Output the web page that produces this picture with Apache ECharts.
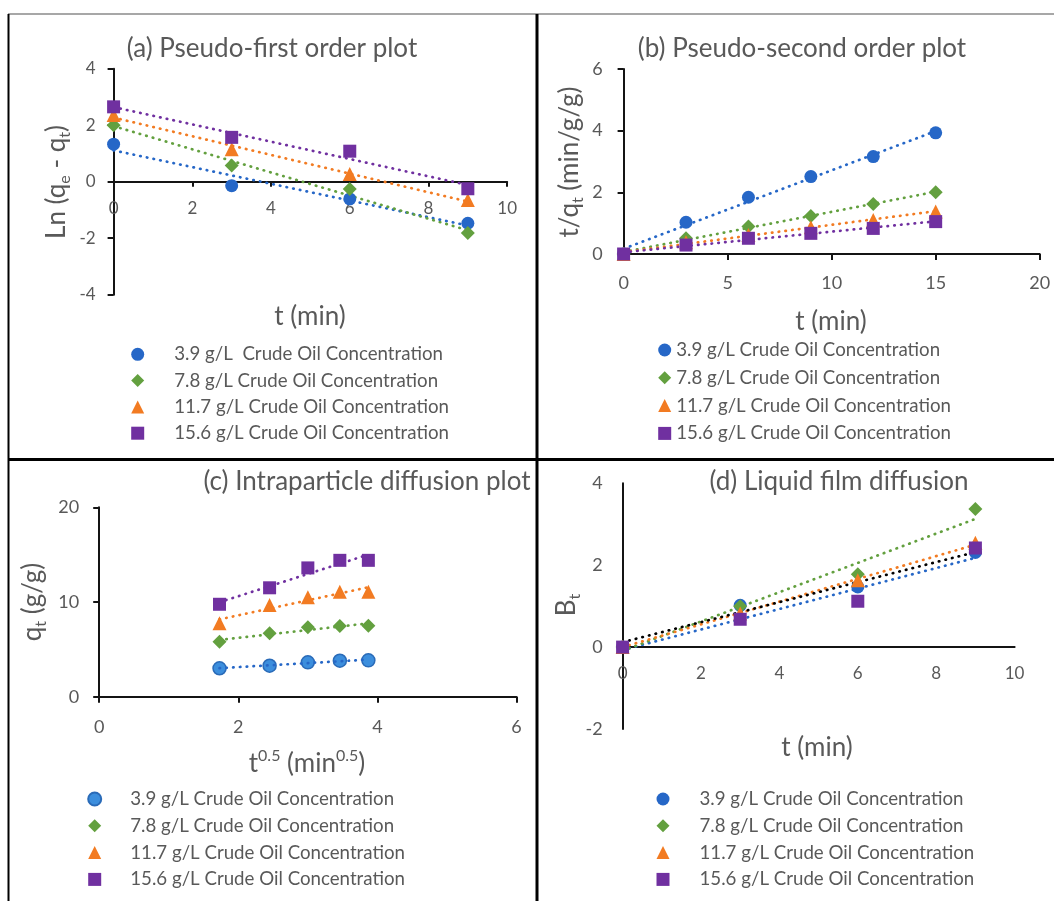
<!DOCTYPE html>
<html>
<head>
<meta charset="utf-8">
<script src="https://cdn.jsdelivr.net/npm/echarts@6/dist/echarts.min.js"></script>
<style>
html,body{margin:0;padding:0;background:#fff;}
.c{position:absolute;left:0;top:0;width:1054px;height:901px;}
</style>
</head>
<body>
<div id="pa" class="c"></div>
<div id="pb" class="c"></div>
<div id="pc" class="c"></div>
<div id="pd" class="c"></div>
<script>
// ---------------- data ----------------
// (a) Pseudo-first order: Ln(qe - qt) vs t
const aTime = [0, 3, 6, 9];
const aC39  = [1.33, -0.14, -0.61, -1.47];
const aC78  = [2.00, 0.57, -0.26, -1.82];
const aC117 = [2.36, 1.15, 0.27, -0.65];
const aC156 = [2.65, 1.57, 1.08, -0.25];

// (b) Pseudo-second order: t/qt vs t
const bTime = [0, 3, 6, 9, 12, 15];
const bC39  = [0, 1.03, 1.84, 2.51, 3.16, 3.93];
const bC78  = [0, 0.51, 0.89, 1.23, 1.62, 2.00];
const bC117 = [0, 0.38, 0.62, 0.87, 1.10, 1.38];
const bC156 = [0, 0.29, 0.51, 0.67, 0.83, 1.05];

// (c) Intraparticle diffusion: qt vs t^0.5
const cRootTime = [1.73, 2.45, 3.00, 3.46, 3.87];
const cC39  = [3.00, 3.27, 3.63, 3.80, 3.84];
const cC78  = [5.81, 6.69, 7.33, 7.47, 7.50];
const cC117 = [7.75, 9.68, 10.50, 11.09, 11.09];
const cC156 = [9.76, 11.50, 13.60, 14.40, 14.40];

// (d) Liquid film diffusion: Bt vs t
const dTime = [0, 3, 6, 9];
const dC39  = [0, 1.02, 1.47, 2.31];
const dC78  = [0, 1.00, 1.78, 3.37];
const dC117 = [0, 0.82, 1.63, 2.55];
const dC156 = [0, 0.68, 1.12, 2.42];
// (d) trendline values at t = 0 and t = 9
const dTrendTime  = [0, 9];
const dTrend39    = [-0.07, 2.18];
const dTrend78    = [-0.09, 3.13];
const dTrend117   = [0.00, 2.50];
const dTrendBlack = [0.12, 2.32];

const namesA = ['3.9 g/L  Crude Oil Concentration', '7.8 g/L Crude Oil Concentration', '11.7 g/L Crude Oil Concentration', '15.6 g/L Crude Oil Concentration'];
const names  = ['3.9 g/L Crude Oil Concentration', '7.8 g/L Crude Oil Concentration', '11.7 g/L Crude Oil Concentration', '15.6 g/L Crude Oil Concentration'];

const titles = ['(a) Pseudo-first order plot', '(b) Pseudo-second order plot', '(c) Intraparticle diffusion plot', '(d) Liquid film diffusion'];

// ---------------- styling ----------------
const FONT = 'Lato';
const GREY = '#595959';
const AXC = '#141414';
const COLORS = ['#2667C7', '#63A03F', '#F27B22', '#7030A0'];
const SYMBOLS = ['circle', 'diamond', 'triangle', 'rect'];
const SIZES = [13, 14, 14, 13];

function pairs(xs, ys) { return xs.map((x, i) => [x, ys[i]]); }
function lsq(xs, ys) {
  const n = xs.length;
  const mx = xs.reduce((s, v) => s + v, 0) / n;
  const my = ys.reduce((s, v) => s + v, 0) / n;
  let sxy = 0, sxx = 0;
  for (let i = 0; i < n; i++) { sxy += (xs[i] - mx) * (ys[i] - my); sxx += (xs[i] - mx) * (xs[i] - mx); }
  const m = sxy / sxx;
  return [m, my - m * mx];
}
function trendPts(xs, ys) {
  const [m, b] = lsq(xs, ys);
  const x0 = Math.min(...xs), x1 = Math.max(...xs);
  return [[x0, b + m * x0], [x1, b + m * x1]];
}
function trendSeries(data, color, z) {
  return { type: 'line', data: data, symbol: 'none', silent: true, z: z || 2,
    lineStyle: { color: color, width: 2.7, type: [0.5, 6.3], cap: 'round' }, animation: false };
}
function scatter(name, xs, ys, i, extra) {
  return Object.assign({ type: 'scatter', name: name, data: pairs(xs, ys), symbol: SYMBOLS[i],
    symbolSize: SIZES[i], itemStyle: { color: COLORS[i], opacity: 1 }, z: 3, animation: false }, extra || {});
}
function axisCommon(o) {
  return Object.assign({
    type: 'value', splitLine: { show: false },
    axisLine: { show: true, onZero: false, lineStyle: { color: AXC, width: 2 } },
    axisTick: { show: true, inside: false, length: 6, lineStyle: { color: AXC, width: 2 } },
    axisLabel: { color: GREY, fontFamily: FONT, fontSize: 17, margin: 18 }
  }, o);
}
function titleOpt(text, cx, cy) {
  return { text: text, left: cx, top: cy - 16, textAlign: 'center', padding: 0,
    textStyle: { color: GREY, fontFamily: FONT, fontSize: 26, fontWeight: 'normal', lineHeight: 32 } };
}
function legendOpt(data, left, top, gap, textPad) {
  return { orient: 'vertical', left: left, top: top, padding: 0, itemWidth: 13, itemHeight: 13,
    itemGap: gap, data: data, selectedMode: false,
    textStyle: { color: GREY, fontFamily: FONT, fontSize: 18.7, lineHeight: 20, padding: [0, 0, 0, textPad] } };
}
const richMain = { fontSize: 26, fontFamily: FONT, lineHeight: 32, fill: GREY, color: GREY };
const richSub = { fontSize: 16, fontFamily: FONT, lineHeight: 14, verticalAlign: 'bottom', fill: GREY, color: GREY };
const richSup = { fontSize: 16, fontFamily: FONT, lineHeight: 14, verticalAlign: 'top', fill: GREY, color: GREY };
function axisTitle(text, cx, cy, rotated) {
  return { type: 'text', x: cx, y: cy, rotation: rotated ? Math.PI / 2 : 0, silent: true,
    style: { text: text, align: 'center', verticalAlign: 'middle', fill: GREY,
      font: '26px ' + FONT, rich: { m: richMain, s: richSub, p: richSup } } };
}

// ---------------- panel (a) ----------------
const chartA = echarts.init(document.getElementById('pa'));
chartA.setOption({
  backgroundColor: 'transparent',
  animation: false,
  title: [titleOpt(titles[0], 272, 49)],
  grid: [{ left: 113.6, top: 68.7, width: 393.6, height: 226, outerBoundsMode: 'none' }],
  // x axis drawn through y = 0 (halfway down the -4..4 range)
  xAxis: [axisCommon({ min: 0, max: 10, interval: 2, offset: -113,
    axisTick: { show: true, length: 5, lineStyle: { color: AXC, width: 2 } } })],
  yAxis: [axisCommon({ min: -4, max: 4, interval: 2 })],
  legend: [legendOpt(namesA, 131.2, 344.3, 6.3, 25)],
  graphic: [
    { type: 'line', silent: true, shape: { x1: 8, y1: 14, x2: 1054, y2: 14 }, style: { stroke: '#8a8a8a', lineWidth: 1.5 } },
    { type: 'line', silent: true, shape: { x1: 8.5, y1: 14, x2: 8.5, y2: 901 }, style: { stroke: '#000', lineWidth: 2 } },
    { type: 'line', silent: true, shape: { x1: 537, y1: 14, x2: 537, y2: 901 }, style: { stroke: '#000', lineWidth: 3 } },
    { type: 'line', silent: true, shape: { x1: 8, y1: 459.5, x2: 1054, y2: 459.5 }, style: { stroke: '#000', lineWidth: 3 } },
    axisTitle('{m|Ln (q}{s|e}{m| - q}{s|t}{m|)}', 57, 182, true),
    axisTitle('{m|t (min)}', 310, 317, false)
  ],
  series: [
    trendSeries(trendPts(aTime, aC39), COLORS[0]),
    trendSeries(trendPts(aTime, aC78), COLORS[1]),
    trendSeries(trendPts(aTime, aC117), COLORS[2]),
    trendSeries(trendPts(aTime, aC156), COLORS[3]),
    scatter(namesA[0], aTime, aC39, 0),
    scatter(namesA[1], aTime, aC78, 1),
    scatter(namesA[2], aTime, aC117, 2),
    scatter(namesA[3], aTime, aC156, 3)
  ]
});

// ---------------- panel (b) ----------------
const chartB = echarts.init(document.getElementById('pb'));
chartB.setOption({
  backgroundColor: 'transparent',
  animation: false,
  title: [titleOpt(titles[1], 802, 49)],
  grid: [{ left: 623.6, top: 69, width: 416.1, height: 185, outerBoundsMode: 'none' }],
  xAxis: [axisCommon({ min: 0, max: 20, interval: 5, axisLabel: { color: GREY, fontFamily: FONT, fontSize: 18, margin: 20 } })],
  yAxis: [axisCommon({ min: 0, max: 6, interval: 2, axisLabel: { color: GREY, fontFamily: FONT, fontSize: 18, margin: 21 } })],
  legend: [legendOpt(names, 658.2, 340, 7.8, 0)],
  graphic: [
    axisTitle('{m|t/q}{s|t}{m| (min/g/g)}', 570, 162, true),
    axisTitle('{m|t (min)}', 831, 322, false)
  ],
  series: [
    trendSeries(trendPts(bTime, bC39), COLORS[0]),
    trendSeries(trendPts(bTime, bC78), COLORS[1]),
    trendSeries(trendPts(bTime, bC117), COLORS[2]),
    trendSeries(trendPts(bTime, bC156), COLORS[3]),
    scatter(names[0], bTime, bC39, 0),
    scatter(names[1], bTime, bC78, 1),
    scatter(names[2], bTime, bC117, 2),
    scatter(names[3], bTime, bC156, 3)
  ]
});

// ---------------- panel (c) ----------------
const chartC = echarts.init(document.getElementById('pc'));
chartC.setOption({
  backgroundColor: 'transparent',
  animation: false,
  title: [titleOpt(titles[2], 367, 482)],
  grid: [{ left: 99.2, top: 507.3, width: 417.3, height: 189.4, outerBoundsMode: 'none' }],
  xAxis: [axisCommon({ min: 0, max: 6, interval: 2, axisLabel: { color: GREY, fontFamily: FONT, fontSize: 18, margin: 21 } })],
  yAxis: [axisCommon({ min: 0, max: 20, interval: 10, axisLabel: { color: GREY, fontFamily: FONT, fontSize: 18, margin: 20 } })],
  legend: [legendOpt(names, 87.2, 789, 6.8, 24)],
  graphic: [
    axisTitle('{m|q}{s|t}{m| (g/g)}', 33, 602, true),
    axisTitle('{m|t}{p|0.5}{m| (min}{p|0.5}{m|)}', 307, 764, false)
  ],
  series: [
    scatter(names[0], cRootTime, cC39, 0, { symbolSize: 13, itemStyle: { color: '#3C8EDD', borderColor: '#2A6BB8', borderWidth: 1.5, opacity: 1 } }),
    scatter(names[1], cRootTime, cC78, 1),
    scatter(names[2], cRootTime, cC117, 2),
    scatter(names[3], cRootTime, cC156, 3),
    trendSeries(trendPts(cRootTime, cC39), COLORS[0], 4),
    trendSeries(trendPts(cRootTime, cC78), COLORS[1], 4),
    trendSeries(trendPts(cRootTime, cC117), COLORS[2], 4),
    trendSeries(trendPts(cRootTime, cC156), COLORS[3], 4)
  ]
});

// ---------------- panel (d) ----------------
const chartD = echarts.init(document.getElementById('pd'));
chartD.setOption({
  backgroundColor: 'transparent',
  animation: false,
  title: [titleOpt(titles[3], 839, 482)],
  grid: [{ left: 622.6, top: 483.3, width: 392, height: 245.7, outerBoundsMode: 'none' }],
  // x axis drawn through y = 0 (one third up the -2..4 range)
  xAxis: [axisCommon({ min: 0, max: 10, interval: 2, offset: -81.9, axisTick: { show: false } })],
  yAxis: [axisCommon({ min: -2, max: 4, interval: 2, axisTick: { show: false }, axisLabel: { color: GREY, fontFamily: FONT, fontSize: 18, margin: 20 } })],
  legend: [legendOpt(names, 656.5, 789, 6.8, 25)],
  graphic: [
    axisTitle('{m|B}{s|t}', 567, 605, true),
    axisTitle('{m|t (min)}', 817, 748, false)
  ],
  series: [
    trendSeries(pairs(dTrendTime, dTrend39), COLORS[0]),
    trendSeries(pairs(dTrendTime, dTrend78), COLORS[1]),
    trendSeries(pairs(dTrendTime, dTrend117), COLORS[2]),
    trendSeries(pairs(dTrendTime, dTrendBlack), '#000000'),
    scatter(names[0], dTime, dC39, 0),
    scatter(names[1], dTime, dC78, 1),
    scatter(names[2], dTime, dC117, 2),
    scatter(names[3], dTime, dC156, 3)
  ]
});
</script>
</body>
</html>
